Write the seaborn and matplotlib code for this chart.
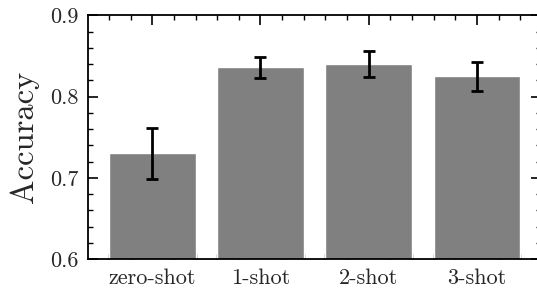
import pandas as pd
import seaborn as sns
import matplotlib.pyplot as plt
from matplotlib.ticker import AutoMinorLocator, MultipleLocator

# values
settings = ['zero-shot', '1-shot', '2-shot', '3-shot']
accuracy = [0.730, 0.836, 0.840, 0.825]
acc_err = [0.032, 0.013, 0.016, 0.018]

df = pd.DataFrame({'setting': settings, 'accuracy': accuracy})

sns.set_style('ticks')
plt.rcParams['font.family'] = ['cmr10', 'DejaVu Serif']
plt.rcParams['mathtext.fontset'] = 'cm'
plt.rcParams['axes.formatter.use_mathtext'] = True
plt.rcParams['axes.unicode_minus'] = False

fig = plt.figure(figsize=(5.37, 2.90), dpi=100)
ax = fig.add_axes([0.1644, 0.1069, 0.8431, 0.8397])

sns.barplot(data=df, x='setting', y='accuracy', color='#808080',
            saturation=1, width=0.8, errorbar=None, ax=ax)
ax.errorbar(range(len(settings)), accuracy, yerr=acc_err, fmt='none',
            ecolor='black', elinewidth=2.0, capsize=4.5, capthick=2.0)

ax.set_xlim(-0.59, 3.59)
ax.set_ylim(0.6, 0.9)
ax.yaxis.set_major_locator(MultipleLocator(0.1))
ax.yaxis.set_major_formatter(plt.FormatStrFormatter('%.1f'))
ax.yaxis.set_minor_locator(AutoMinorLocator(5))
ax.xaxis.set_minor_locator(AutoMinorLocator(5))

ax.set_xlabel('')
ax.set_ylabel('Accuracy', fontsize=23.5, labelpad=8)

for side in ['top', 'left', 'bottom']:
    ax.spines[side].set_linewidth(1.3)
    ax.spines[side].set_color('black')
ax.spines['right'].set_visible(False)

ax.tick_params(which='both', direction='in', top=True, right=True,
               color='black', labelsize=16)
ax.tick_params(which='major', length=7, width=1.2)
ax.tick_params(which='minor', length=3.5, width=1.0)
ax.tick_params(axis='y', which='major', pad=7)
ax.tick_params(axis='x', which='major', pad=7)

fig.savefig('out.png', dpi=100)
